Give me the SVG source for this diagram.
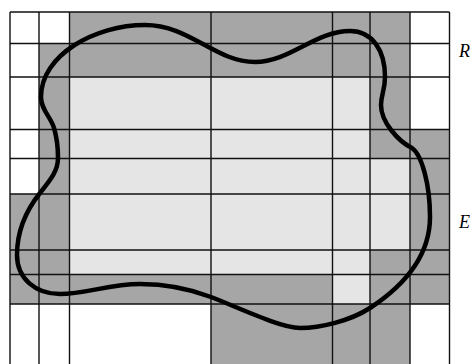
<svg xmlns="http://www.w3.org/2000/svg" width="470" height="364" viewBox="0 0 470 364">
<style>
.dk{fill:#a6a6a6}
.lt{fill:#e5e5e5}
.grid{stroke:#111;stroke-width:1.4;fill:none}
.curve{stroke:#000;stroke-width:4.5;fill:none;stroke-linejoin:round}
.lbl{font-family:"Liberation Serif",serif;font-style:italic;font-size:18px;fill:#000}
</style>
<rect width="470" height="364" fill="#fff"/>
<g id="cells">
<rect class="dk" x="69.5" y="12" width="340.5" height="65"/>
<rect class="dk" x="39" y="43.5" width="30.5" height="260.5"/>
<rect class="dk" x="370" y="12" width="40" height="146.5"/>
<rect class="dk" x="410" y="129.5" width="39.5" height="174.5"/>
<rect class="dk" x="10" y="194" width="29" height="110"/>
<rect class="dk" x="370" y="250" width="40" height="114"/>
<rect class="dk" x="69.5" y="274.5" width="263" height="29.5"/>
<rect class="dk" x="211" y="304" width="159" height="60"/>
<rect class="lt" x="69.5" y="77" width="300.5" height="197.5"/>
<rect class="lt" x="370" y="158.5" width="40" height="91.5"/>
<rect class="lt" x="332.5" y="274.5" width="37.5" height="29.5"/>
</g>
<g id="grid" class="grid">
<path d="M10 12V364M39 12V364M69.5 12V364M211 12V364M332.5 12V364M370 12V364M410 12V364M449.5 12V364"/>
<path d="M10 12H449.5M10 43.5H449.5M10 77H449.5M10 129.5H449.5M10 158.5H449.5M10 194H449.5M10 250H449.5M10 274.5H449.5M10 304H449.5"/>
</g>
<g id="region">
<path class="curve" d="M145 25C190 25 215 62 255 62C290 62 315 31 350 31C372 31 385 50 385 77C385 90 381 95 381 105C381 122 398 141 412 148C422 155 430 185 430 217C430 255 405 285 370 308C350 321 320 328 300 328C280 328 235 306 211 297C190 289 165 284 140 284C110 284 85 294 60 294C35 294 17 278 17 255C17 230 28 208 40 193C52 178 58 170 58 158C58 148 57 138 54 128C51 117 41 110 41 97C41 55 95 25 145 25Z"/>
</g>
<g id="labels">
<text class="lbl" x="459" y="57">R</text>
<text class="lbl" x="459" y="228">E</text>
</g>
</svg>
